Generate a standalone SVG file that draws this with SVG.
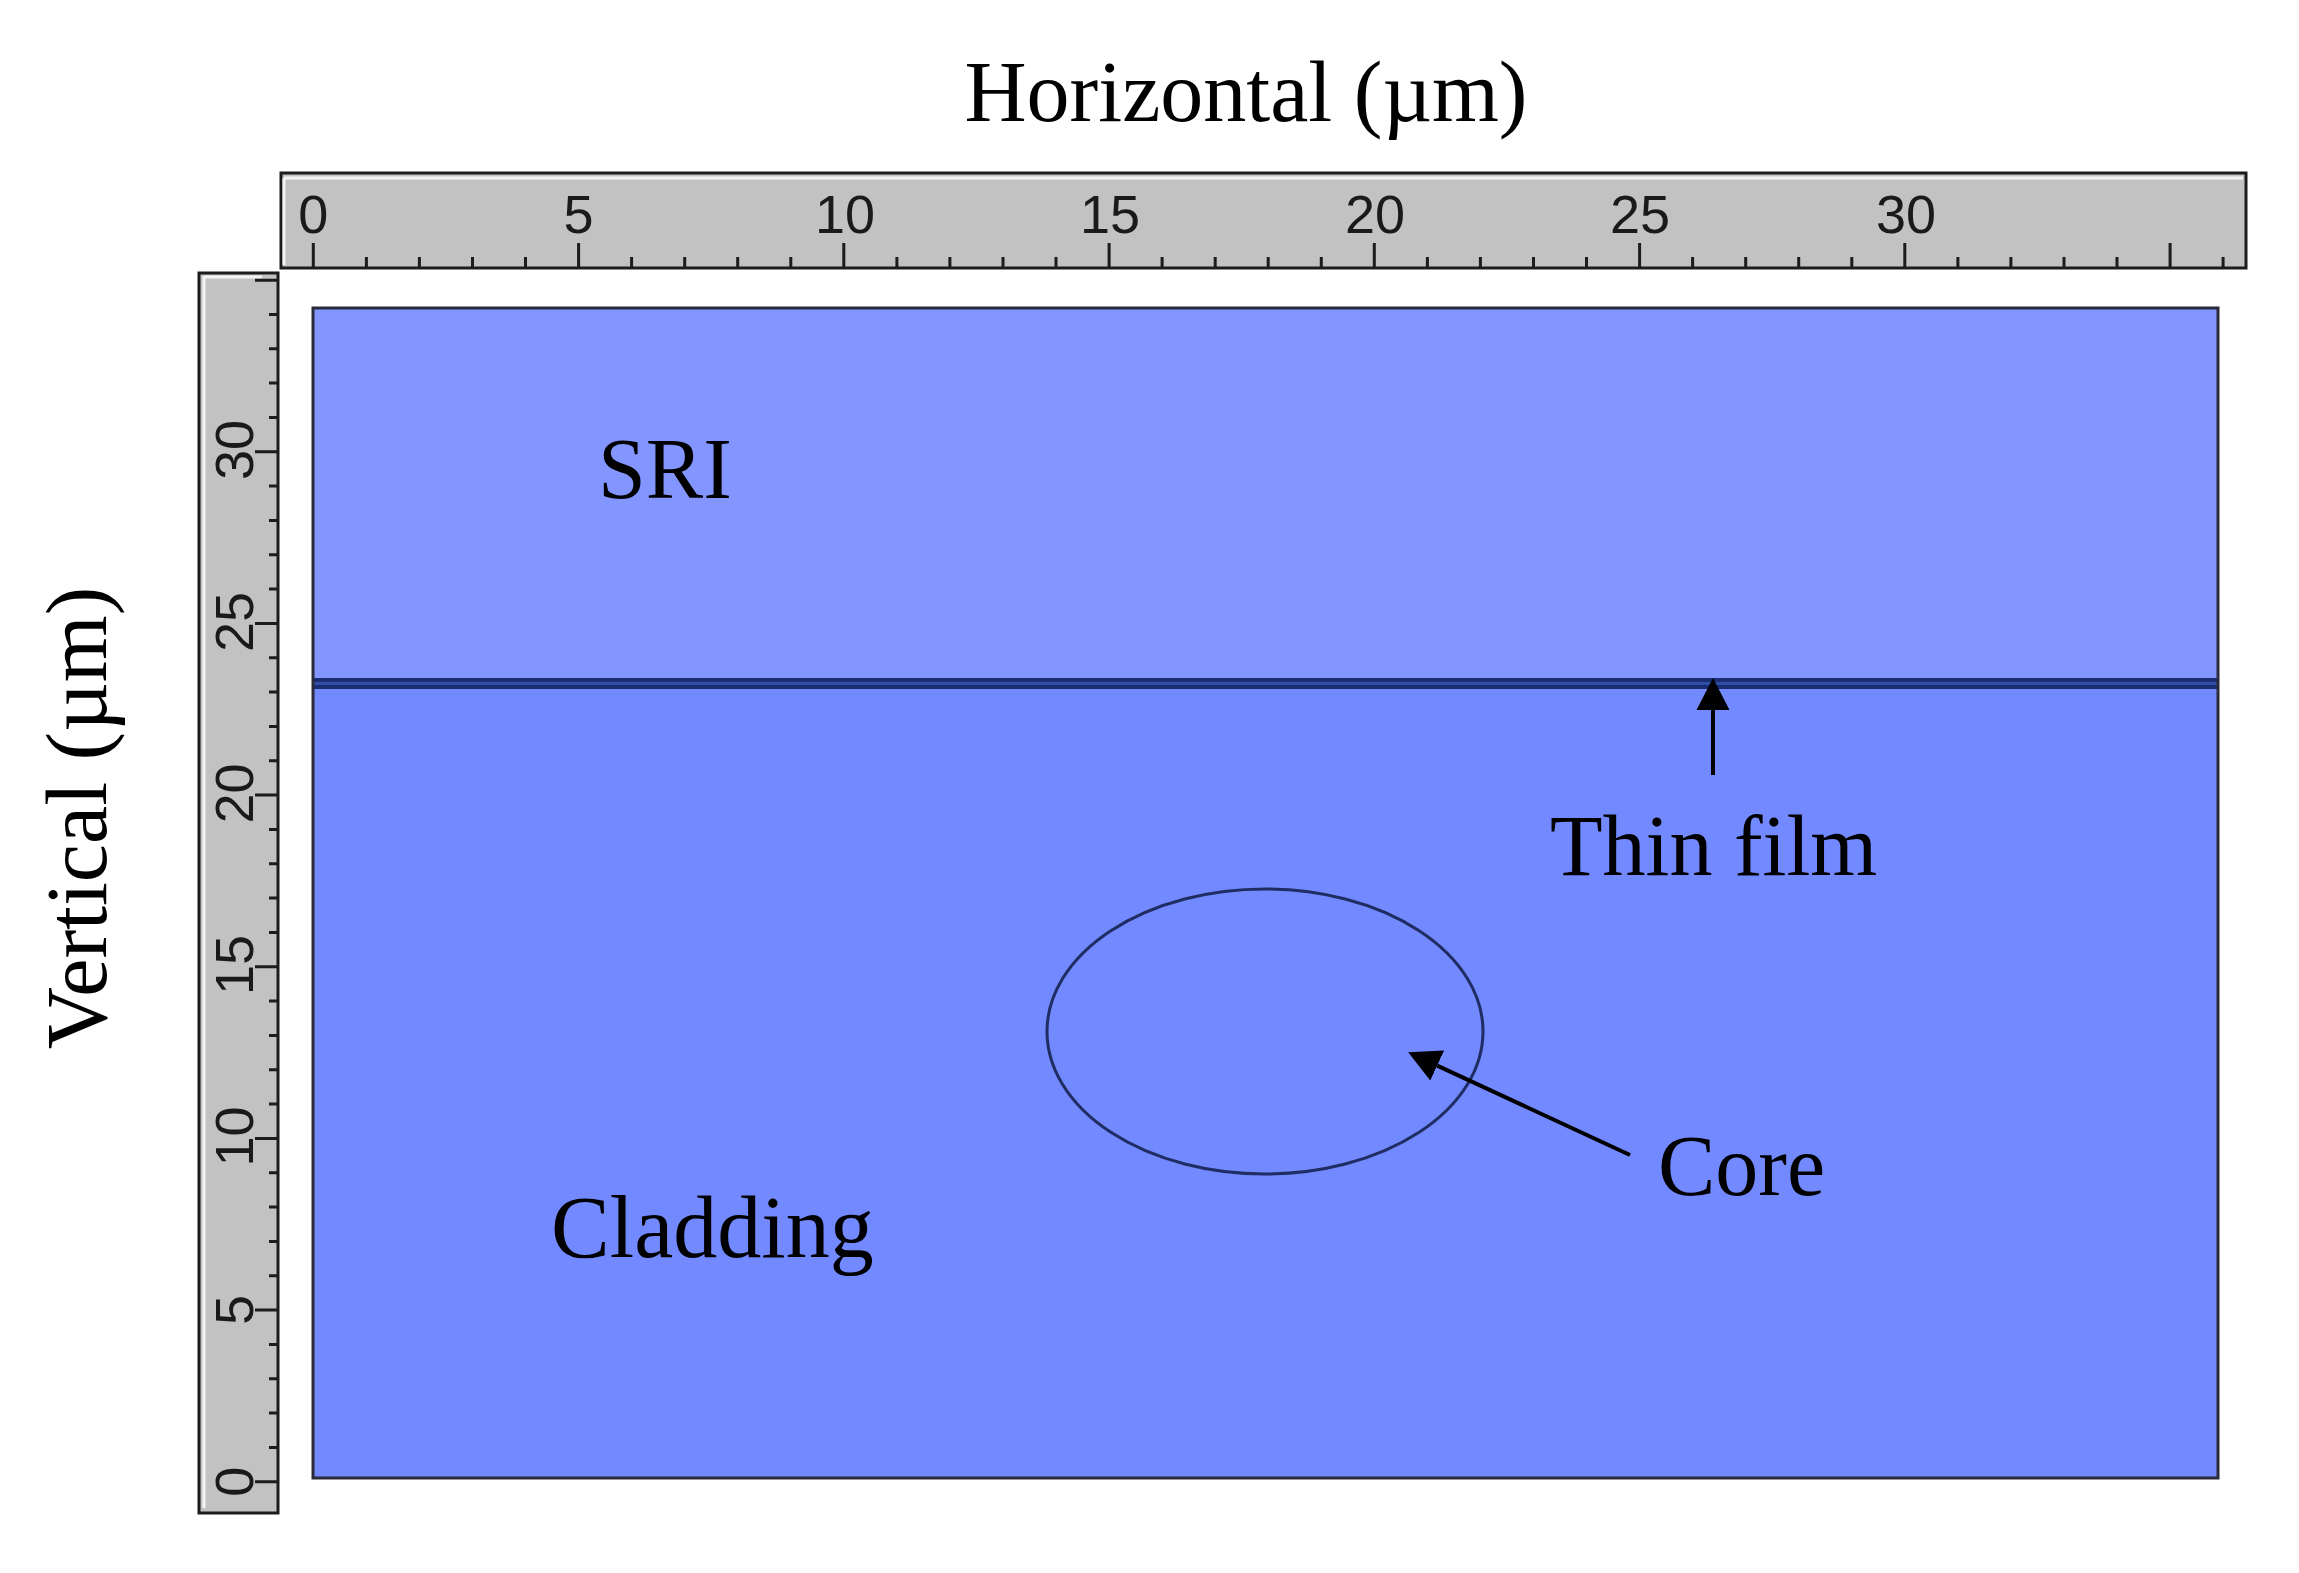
<svg xmlns="http://www.w3.org/2000/svg" width="2299" height="1573" viewBox="0 0 2299 1573">
<style>
.ruler{fill:#c2c2c2;stroke:#1c1c1c;stroke-width:3}
.hl{fill:none;stroke:#f4f4f4;stroke-width:3}
.tick{fill:none;stroke:#1c1c1c;stroke-width:3}
.num{font-family:"Liberation Sans",Arial,sans-serif;font-size:54px;fill:#1a1a1a;text-anchor:middle}
.lbl{font-family:"Liberation Serif","Times New Roman",serif;font-size:86px;fill:#000}
.conn{stroke:#000;stroke-width:4;fill:none}
</style>
<defs>
<marker id="head" markerUnits="userSpaceOnUse" markerWidth="32" markerHeight="34" refX="0" refY="16" orient="auto" viewBox="0 0 31 32">
<path d="M0,0 L31,16 L0,32 z" fill="#000"/>
</marker>
</defs>
<rect width="2299" height="1573" fill="#fff"/>

<g id="axis-title-h"><text class="lbl" x="1246" y="121" text-anchor="middle">Horizontal (µm)</text></g>
<g id="axis-title-v"><text class="lbl" transform="translate(106,818) rotate(-90)" text-anchor="middle">Vertical (µm)</text></g>

<g id="ruler-top">
<rect class="ruler" x="281" y="173" width="1965" height="95"/>
<path class="hl" d="M284,178 H2243 M284,178 V265"/>
<path class="tick" d="M313.3,243V268 M366.4,257V268 M419.4,257V268 M472.5,257V268 M525.5,257V268 M578.6,243V268 M631.6,257V268 M684.7,257V268 M737.7,257V268 M790.8,257V268 M843.8,243V268 M896.9,257V268 M949.9,257V268 M1003,257V268 M1056,257V268 M1109.1,243V268 M1162.1,257V268 M1215.2,257V268 M1268.2,257V268 M1321.3,257V268 M1374.3,243V268 M1427.4,257V268 M1480.4,257V268 M1533.5,257V268 M1586.5,257V268 M1639.6,243V268 M1692.6,257V268 M1745.7,257V268 M1798.7,257V268 M1851.8,257V268 M1904.8,243V268 M1957.9,257V268 M2010.9,257V268 M2064,257V268 M2117,257V268 M2170.1,243V268 M2223.1,257V268"/>
<text class="num" x="313.3" y="233">0</text>
<text class="num" x="578.6" y="233">5</text>
<text class="num" x="845" y="233">10</text>
<text class="num" x="1110" y="233">15</text>
<text class="num" x="1375" y="233">20</text>
<text class="num" x="1640" y="233">25</text>
<text class="num" x="1906" y="233">30</text>
</g>

<g id="ruler-left">
<rect class="ruler" x="199" y="273" width="79" height="1240"/>
<path class="hl" d="M204,276 V1508 M204,277 H262"/>
<path class="tick" d="M255,1481.7H278 M269,1447.4H278 M269,1413H278 M269,1378.7H278 M269,1344.4H278 M255,1310.1H278 M269,1275.7H278 M269,1241.4H278 M269,1207.1H278 M269,1172.7H278 M255,1138.4H278 M269,1104.1H278 M269,1069.7H278 M269,1035.4H278 M269,1001.1H278 M255,966.8H278 M269,932.4H278 M269,898.1H278 M269,863.8H278 M269,829.4H278 M255,795.1H278 M269,760.8H278 M269,726.4H278 M269,692.1H278 M269,657.8H278 M255,623.5H278 M269,589.1H278 M269,554.8H278 M269,520.5H278 M269,486.1H278 M255,451.8H278 M269,417.5H278 M269,383.1H278 M269,348.8H278 M269,314.5H278 M255,280.2H278"/>
<text class="num" transform="translate(253,1481.7) rotate(-90)">0</text>
<text class="num" transform="translate(253,1310.1) rotate(-90)">5</text>
<text class="num" transform="translate(253,1136.5) rotate(-90)">10</text>
<text class="num" transform="translate(253,965) rotate(-90)">15</text>
<text class="num" transform="translate(253,793.5) rotate(-90)">20</text>
<text class="num" transform="translate(253,622) rotate(-90)">25</text>
<text class="num" transform="translate(253,450) rotate(-90)">30</text>
</g>

<g id="sri">
<rect x="313" y="308" width="1905" height="375" fill="#8396ff"/>
</g>
<g id="cladding">
<rect x="313" y="683" width="1905" height="795" fill="#7389ff"/>
</g>
<g id="thin-film">
<rect x="313" y="678" width="1905" height="11" fill="#1a2c72"/>
<line x1="313" y1="683.5" x2="2218" y2="683.5" stroke="#2f4fa6" stroke-width="3"/>
</g>
<g id="frame">
<rect x="313" y="308" width="1905" height="1170" fill="none" stroke="#2a2a3a" stroke-width="3"/>
</g>
<g id="core">
<ellipse cx="1265" cy="1031.5" rx="218" ry="142.5" fill="none" stroke="#1f2d63" stroke-width="3"/>
</g>

<g id="connectors">
<line class="conn" x1="1713" y1="775" x2="1713" y2="710" marker-end="url(#head)"/>
<line class="conn" x1="1630" y1="1155" x2="1437.2" y2="1065.6" marker-end="url(#head)"/>
</g>

<g id="labels">
<text class="lbl" x="598" y="498">SRI</text>
<text class="lbl" x="1550" y="875">Thin film</text>
<text class="lbl" x="1658" y="1195">Core</text>
<text class="lbl" x="551" y="1257" style="font-size:88px">Cladding</text>
</g>
</svg>
